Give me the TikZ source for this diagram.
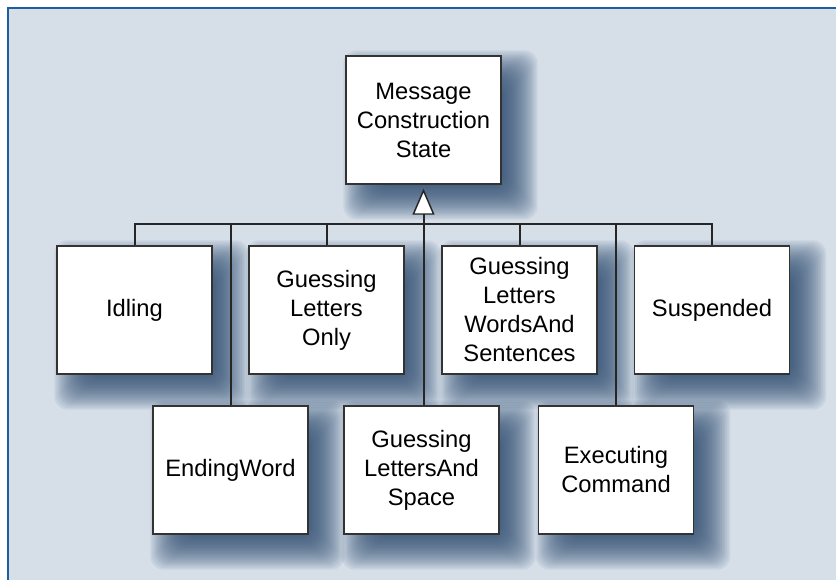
\documentclass[tikz,border=0pt]{standalone}
\usepackage{fontspec}
\setmainfont{Liberation Sans}
\usetikzlibrary{arrows.meta,calc}
\pgfdeclarelayer{background}
\pgfsetlayers{background,main}
\definecolor{bgc}{HTML}{D6DEE8}
\definecolor{framec}{HTML}{1D5E9E}
\definecolor{shadowc}{HTML}{2A4A6E}
\definecolor{edgec}{HTML}{333333}
\tikzset{
  statebox/.style={draw=edgec, line width=1.1pt, fill=white, rectangle,
    minimum width=116.25pt, minimum height=96pt, inner sep=0pt, align=center,
    font=\fontsize{17.8}{21.75}\selectfont},
  conn/.style={draw=black!85, line width=1.5pt},
}
\begin{document}
\begin{tikzpicture}[x=0.75pt,y=-0.75pt]
\useasboundingbox (0,0) rectangle (836,580);

% nodes
\node[statebox] (msc)  at (423.5,120) {Message\\Construction\\State};
\node[statebox] (idl)  at (134.5,310) {Idling};
\node[statebox] (glo)  at (326.5,310) {Guessing\\Letters\\Only};
\node[statebox] (glws) at (519.5,310) {Guessing\\Letters\\WordsAnd\\Sentences};
\node[statebox] (sus)  at (712,310) {Suspended};
\node[statebox] (ew)   at (230.5,470) {EndingWord};
\node[statebox] (glas) at (421.5,470) {Guessing\\LettersAnd\\Space};
\node[statebox] (ec)   at (616,470) {Executing\\Command};

% background panel and shadows
\begin{pgfonlayer}{background}
\fill[bgc] (8,8) rectangle (836,580);
\draw[framec, line width=2pt] (8,580) -- (8,8) -- (836,8);
\foreach \n in {msc,idl,glo,glws,sus,ew,glas,ec}{
  \foreach \k [evaluate=\k as \e using {20-40*\k/24}] in {0,...,24}{
    \fill[shadowc, opacity=0.072, rounded corners=10pt]
      ($(\n.north west)+({18-\e},{15-\e})$) rectangle ($(\n.south east)+({16+\e},{15+\e})$);
  }
}
\end{pgfonlayer}

% connectors
\coordinate (bus) at (423.5,224);
\draw[conn] (idl.north) -- (idl.north |- bus) -- (sus.north |- bus) -- (sus.north);
\draw[conn] (glo.north) -- (glo.north |- bus);
\draw[conn] (glws.north) -- (glws.north |- bus);
\draw[conn] (ew.north) -- (ew.north |- bus);
\draw[conn] (ec.north) -- (ec.north |- bus);
\draw[conn, shorten >=3pt, -{Triangle[fill=white, length=19.5pt, width=16.5pt, line width=1.1pt]}]
  (glas.north -| msc.south) -- (msc.south);
\end{tikzpicture}
\end{document}
